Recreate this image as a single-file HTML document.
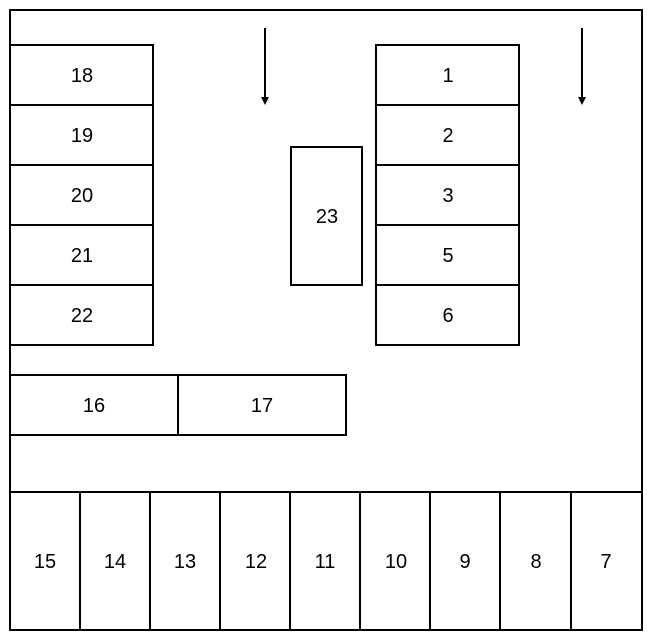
<!DOCTYPE html>
<html><head><style>body{margin:0;background:#fff}svg{display:block}</style></head><body>
<svg width="653" height="635" xmlns="http://www.w3.org/2000/svg" font-family="Liberation Sans, sans-serif" font-size="20" text-anchor="middle">
<g fill="none" stroke="#000" stroke-width="2">
<rect x="10" y="10" width="632" height="620"/>
<rect x="10" y="45" width="143" height="60"/>
<rect x="10" y="105" width="143" height="60"/>
<rect x="10" y="165" width="143" height="60"/>
<rect x="10" y="225" width="143" height="60"/>
<rect x="10" y="285" width="143" height="60"/>
<rect x="376" y="45" width="143" height="60"/>
<rect x="376" y="105" width="143" height="60"/>
<rect x="376" y="165" width="143" height="60"/>
<rect x="376" y="225" width="143" height="60"/>
<rect x="376" y="285" width="143" height="60"/>
<rect x="291" y="147" width="71" height="138"/>
<rect x="10" y="375" width="168" height="60"/>
<rect x="178" y="375" width="168" height="60"/>
<line x1="10" y1="492" x2="642" y2="492"/>
<line x1="80" y1="492" x2="80" y2="630"/>
<line x1="150" y1="492" x2="150" y2="630"/>
<line x1="220" y1="492" x2="220" y2="630"/>
<line x1="290" y1="492" x2="290" y2="630"/>
<line x1="360" y1="492" x2="360" y2="630"/>
<line x1="430" y1="492" x2="430" y2="630"/>
<line x1="500" y1="492" x2="500" y2="630"/>
<line x1="571" y1="492" x2="571" y2="630"/>
<line x1="265" y1="28" x2="265" y2="99"/>
<line x1="582" y1="28" x2="582" y2="99"/>
</g>
<polygon points="261,97 269,97 265,105" fill="#000"/>
<polygon points="578,97 586,97 582,105" fill="#000"/>
<g fill="#000">
<text x="82" y="82">18</text><text x="82" y="142">19</text><text x="82" y="202">20</text><text x="82" y="262">21</text><text x="82" y="322">22</text>
<text x="448" y="82">1</text><text x="448" y="142">2</text><text x="448" y="202">3</text><text x="448" y="262">5</text><text x="448" y="322">6</text>
<text x="327" y="223">23</text>
<text x="94" y="412">16</text><text x="262" y="412">17</text>
<text x="45" y="568">15</text><text x="115" y="568">14</text><text x="185" y="568">13</text><text x="256" y="568">12</text><text x="325" y="568">11</text><text x="396" y="568">10</text><text x="465" y="568">9</text><text x="536" y="568">8</text><text x="606" y="568">7</text>
</g>
</svg>
</body></html>
